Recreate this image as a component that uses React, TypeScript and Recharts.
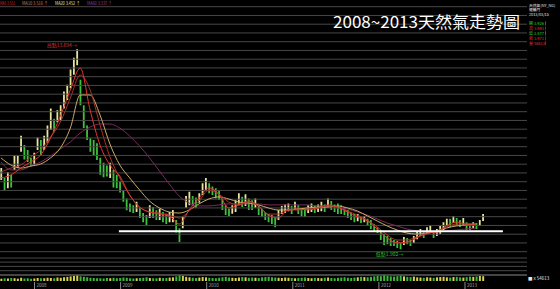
import React from 'react';
import {
  ComposedChart,
  Bar,
  Line,
  XAxis,
  YAxis,
  ReferenceLine,
  ReferenceDot,
  Cell,
} from 'recharts';

// ---- time axis ----
const START_YEAR = 2007.611; // first bar (mid Aug 2007)
const STEP_YEARS = 14 / 365.25; // one bar per two weeks
const yearTicks = [2008, 2009, 2010, 2011, 2012, 2013];
const X_DOMAIN: [number, number] = [2007.5993, 2013.7201];
const P_DOMAIN: [number, number] = [1.761, 16.206];

// ---- price bars (low / high, USD per MMBtu) ----
const lows = [
  5.99, 5.4, 5.5, 5.55, 6.58, 6.7, 7.65, 7.2, 7.05, 6.8,
  6.85, 7.76, 7.45, 7.76, 8.2, 8.94, 8.8, 9.4, 9.5, 10.2,
  10.7, 11.4, 12.2, 12.75, 10.4, 9.05, 8.35, 7.65, 7.45, 7.17,
  6.3, 6.15, 6.2, 6.1, 5.55, 5.5, 5.25, 4.7, 4.2, 4.1,
  4.05, 4.1, 3.75, 3.5, 3.34, 3.75, 3.75, 3.63, 3.63, 3.5,
  3.4, 3.5, 3.5, 2.9, 2.33, 3.15, 4.35, 4.5, 4.45, 4.35,
  4.65, 5.1, 5.4, 5.2, 5.1, 4.9, 4.81, 4.22, 3.92, 3.85,
  4.0, 4.1, 4.5, 4.4, 4.45, 4.22, 4.22, 4.35, 3.92, 3.8,
  3.63, 3.5, 3.4, 3.2, 3.63, 3.98, 4.05, 4.15, 3.98, 4.22,
  3.98, 3.85, 3.8, 4.05, 4.1, 4.05, 4.1, 4.15, 4.1, 4.4,
  4.22, 4.1, 3.98, 3.98, 3.92, 3.75, 3.63, 3.5, 3.55, 3.45,
  3.5, 3.28, 3.1, 2.98, 2.86, 2.45, 2.16, 2.2, 2.1, 2.1,
  1.98, 1.902, 2.16, 2.2, 2.1, 2.27, 2.5, 2.68, 2.57, 2.8,
  2.92, 2.57, 2.68, 2.8, 3.04, 3.28, 3.22, 3.45, 3.28, 3.22,
  3.34, 3.04, 3.04, 3.15, 3.1, 3.28, 3.57,
];
const highs = [
  6.7, 6.1, 6.45, 6.3, 7.45, 7.45, 8.6, 8.05, 7.76, 7.3,
  7.6, 8.5, 8.35, 8.6, 9.2, 10.2, 9.6, 10.1, 10.4, 11.2,
  11.6, 12.5, 13.2, 13.694, 11.9, 10.4, 9.2, 8.45, 8.35, 8.15,
  7.3, 7.0, 6.85, 7.0, 6.58, 6.3, 5.9, 5.4, 4.9, 4.6,
  4.5, 4.7, 4.35, 4.05, 3.92, 4.5, 4.4, 4.2, 4.3, 4.1,
  4.0, 4.1, 4.22, 3.63, 3.15, 3.8, 5.05, 5.3, 5.05, 4.95,
  5.2, 5.8, 6.1, 5.8, 5.6, 5.5, 5.4, 4.9, 4.5, 4.3,
  4.5, 4.8, 5.2, 5.0, 5.15, 4.9, 4.8, 4.9, 4.45, 4.3,
  4.1, 3.98, 3.92, 3.75, 4.22, 4.45, 4.55, 4.6, 4.45, 4.7,
  4.5, 4.3, 4.25, 4.5, 4.6, 4.5, 4.55, 4.7, 4.55, 4.9,
  4.75, 4.55, 4.6, 4.5, 4.4, 4.22, 4.1, 3.98, 3.98, 3.8,
  3.86, 3.7, 3.63, 3.4, 3.2, 3.04, 2.8, 2.7, 2.57, 2.45,
  2.4, 2.28, 2.63, 2.57, 2.45, 2.68, 2.92, 3.1, 2.98, 3.2,
  3.34, 2.98, 3.1, 3.28, 3.5, 3.7, 3.7, 3.86, 3.75, 3.63,
  3.75, 3.5, 3.4, 3.5, 3.45, 3.63, 3.98,
];
const volumes = [
  10, 12, 11, 13, 12, 10, 14, 11, 12, 10,
  11, 13, 12, 12, 14, 13, 12, 15, 14, 16,
  18, 20, 22, 24, 20, 18, 16, 14, 13, 12,
  12, 11, 13, 12, 14, 12, 13, 15, 14, 12,
  11, 12, 13, 14, 16, 13, 12, 12, 14, 13,
  13, 15, 16, 20, 24, 22, 18, 16, 14, 13,
  15, 17, 16, 14, 13, 12, 14, 16, 18, 15,
  14, 13, 15, 17, 16, 14, 15, 14, 13, 16,
  17, 18, 16, 15, 14, 13, 15, 14, 13, 12,
  13, 14, 15, 13, 12, 14, 13, 12, 14, 15,
  13, 12, 14, 15, 16, 14, 13, 15, 16, 18,
  17, 16, 18, 20, 22, 21, 24, 22, 20, 19,
  21, 23, 20, 18, 17, 19, 16, 15, 14, 16,
  15, 14, 16, 17, 18, 16, 15, 17, 18, 16,
  15, 17, 19, 18, 20, 22, 21,
];

// ---- moving averages, read every 3rd bar ----
const MA_EVERY = 3;
const ma1Knots = [
  6.11, 6.28, 6.69, 7.05, 7.46, 8.46, 9.76, 11.3, 12.59, 10.11,
  8.05, 6.87, 6.22, 5.1, 4.39, 4.1, 3.98, 3.87, 3.39, 4.22,
  4.93, 5.52, 5.16, 4.34, 4.52, 4.75, 4.46, 3.92, 3.75, 4.22,
  4.28, 4.22, 4.34, 4.52, 4.39, 4.1, 3.81, 3.57, 3.1, 2.57,
  2.28, 2.33, 2.57, 2.86, 2.92, 3.28, 3.51, 3.39, 3.39,
];
const ma2Knots = [
  6.46, 6.69, 6.87, 7.35, 7.76, 8.52, 9.41, 10.82, 12.18, 11.3,
  9.23, 7.35, 6.11, 5.1, 4.39, 4.1, 4.04, 3.92, 3.75, 4.16,
  4.75, 5.4, 5.16, 4.69, 4.52, 4.69, 4.46, 3.98, 3.98, 4.22,
  4.22, 4.28, 4.34, 4.46, 4.39, 4.16, 3.92, 3.63, 3.22, 2.75,
  2.45, 2.45, 2.63, 2.8, 2.98, 3.22, 3.39, 3.39, 3.39,
];
const ma3Knots = [
  7.29, 6.87, 6.69, 6.81, 6.93, 7.29, 7.88, 9.05, 11.0, 11.0,
  9.82, 8.11, 6.87, 6.11, 5.4, 4.75, 4.34, 4.1, 4.04, 4.22,
  4.58, 4.87, 4.99, 4.87, 4.69, 4.63, 4.52, 4.34, 4.22, 4.22,
  4.28, 4.34, 4.39, 4.39, 4.46, 4.34, 4.16, 3.87, 3.57, 3.28,
  3.04, 2.86, 2.8, 2.86, 2.98, 3.16, 3.28, 3.34, 3.39,
];
const ma4Knots = [
  7.05, 6.58, 6.58, 6.81, 7.05, 7.4, 7.82, 8.23, 8.76, 9.11,
  9.29, 9.29, 9.05, 8.58, 7.99, 7.29, 6.52, 5.75, 5.04, 4.63,
  4.46, 4.46, 4.52, 4.58, 4.58, 4.58, 4.58, 4.52, 4.52, 4.52,
  4.52, 4.52, 4.46, 4.46, 4.39, 4.28, 4.1, 3.92, 3.69, 3.45,
  3.28, 3.1, 2.98, 2.92, 2.92, 2.98, 3.04, 3.1, 3.16,
];

const peak = { index: 23, price: 13.694, label: '高點13.694→' };
const trough = { index: 121, price: 1.902, label: '低點1.902→' };
const supportLine = { from: 2008.98, to: 2013.44, price: 2.97 };

const legendItems = [
  { text: 'MA5 3.551', color: '#d42a2a', x: 0, w: 15 },
  { text: 'MA10 3.516 ↑', color: '#d8785a', x: 22, w: 26 },
  { text: 'MA20 3.452 ↑', color: '#e6e2a4', x: 55, w: 25 },
  { text: 'MA60 3.337 ↑', color: '#9a3aa8', x: 87, w: 25 },
];
const infoTop = ['天然氣(NY_NG)', '連續月', '2013/03/15'];
const infoQuote = [
  { text: '開 3.926', color: '#2fd02f' },
  { text: '高 3.993', color: '#e03030' },
  { text: '低 3.877', color: '#2fd02f' },
  { text: '收 3.971', color: '#e03030' },
  { text: '量 54613', color: '#e03030' },
];

const UP = '#e8e49c';
const DOWN = '#3cc23c';
const GRID = '#484848';

const rows = lows.map((lo, i) => {
  const hi = highs[i];
  const mid = (lo + hi) / 2;
  const prevMid = i > 0 ? (lows[i - 1] + highs[i - 1]) / 2 : mid;
  const k = i / MA_EVERY;
  const knot = (arr: number[]) => (i % MA_EVERY === 0 && k < arr.length ? arr[k] : null);
  return {
    t: START_YEAR + i * STEP_YEARS,
    range: [lo, hi],
    vol: volumes[i],
    up: mid >= prevMid,
    ma1: knot(ma1Knots),
    ma2: knot(ma2Knots),
    ma3: knot(ma3Knots),
    ma4: knot(ma4Knots),
  };
});

// grid positions (in grid-axis units, one unit per grid row)
const priceGridTicks = Array.from({ length: 29 }, (_, k) => k);
const volGridTicks = [10.3, 14.6, 18.9, 23];
const volSeparator = 6;

const FONT = '"Noto Sans CJK TC", "Noto Sans", sans-serif';

const YearTick = (props: any) => {
  const { x, y, payload } = props;
  return (
    <g>
      <line x1={x} x2={x} y1={y + 1} y2={y + 9} stroke="#8a8a8a" strokeWidth={1} />
      <text x={x + 2} y={y + 6} fontSize={4.5} fill="#a8a8a8" fontFamily={FONT}>
        {payload.value}
      </text>
    </g>
  );
};

const PeakLabel = (props: any) => {
  const { viewBox } = props;
  const cx = viewBox.x + (viewBox.width || 0) / 2;
  const cy = viewBox.y + (viewBox.height || 0) / 2;
  return (
    <text x={cx} y={cy - 2} fontSize={5} fill="#d83030" textAnchor="end" fontFamily={FONT}>
      {peak.label}
    </text>
  );
};
const TroughLabel = (props: any) => {
  const { viewBox } = props;
  const cx = viewBox.x + (viewBox.width || 0) / 2;
  const cy = viewBox.y + (viewBox.height || 0) / 2;
  return (
    <text x={cx + 3} y={cy + 6.5} fontSize={5} fill="#30c030" textAnchor="end" fontFamily={FONT}>
      {trough.label}
    </text>
  );
};

export default function App() {
  return (
    <div
      style={{
        position: 'fixed',
        left: 0,
        top: 0,
        width: 560,
        height: 289,
        background: '#000',
        overflow: 'hidden',
      }}
    >
      <div style={{ position: 'absolute', left: 0, top: 253 }}>
        <ComposedChart
          width={527}
          height={36}
          data={rows}
          margin={{ top: 5, right: 0, bottom: 0, left: 0 }}
        >
          <XAxis
            dataKey="t"
            type="number"
            domain={X_DOMAIN}
            allowDataOverflow
            ticks={yearTicks}
            tick={<YearTick />}
            tickLine={false}
            axisLine={false}
            tickSize={0}
            tickMargin={0}
            height={8}
            interval={0}
          />
          <YAxis yAxisId="vg" type="number" domain={[0, 23]} allowDataOverflow hide />
          <YAxis yAxisId="v" type="number" domain={[0, 100]} allowDataOverflow hide />
          {volGridTicks.map((v) => (
            <ReferenceLine key={v} yAxisId="vg" y={v} stroke={GRID} strokeWidth={1} />
          ))}
          <ReferenceLine yAxisId="vg" y={volSeparator} stroke="#8a8a8a" strokeWidth={1} />
          <Bar dataKey="vol" yAxisId="v" barSize={2} isAnimationActive={false}>
            {rows.map((r, i) => (
              <Cell key={i} fill={r.up ? '#d6d24a' : '#3cb83c'} />
            ))}
          </Bar>
        </ComposedChart>
      </div>
      <div style={{ position: 'absolute', left: 0, top: 0 }}>
        <ComposedChart
          width={527}
          height={262}
          data={rows}
          margin={{ top: 6.7, right: 0, bottom: 10.3, left: 0 }}
        >
          <XAxis dataKey="t" type="number" domain={X_DOMAIN} allowDataOverflow hide />
          <YAxis yAxisId="g" type="number" domain={[0, 28]} allowDataOverflow hide />
          <YAxis yAxisId="p" type="number" domain={P_DOMAIN} allowDataOverflow hide />
          {priceGridTicks.map((k) => (
            <ReferenceLine key={k} yAxisId="g" y={k} stroke={GRID} strokeWidth={1} />
          ))}
          <Bar dataKey="range" yAxisId="p" barSize={1.8} isAnimationActive={false}>
            {rows.map((r, i) => (
              <Cell key={i} fill={r.up ? UP : DOWN} />
            ))}
          </Bar>
          <Line yAxisId="p" dataKey="ma4" stroke="#7a2c5c" strokeWidth={1} dot={false} connectNulls type="monotone" isAnimationActive={false} />
          <Line yAxisId="p" dataKey="ma3" stroke="#c8ac6c" strokeWidth={1} dot={false} connectNulls type="monotone" isAnimationActive={false} />
          <Line yAxisId="p" dataKey="ma2" stroke="#a8342c" strokeWidth={1} dot={false} connectNulls type="monotone" isAnimationActive={false} />
          <Line yAxisId="p" dataKey="ma1" stroke="#e03a30" strokeWidth={1} dot={false} connectNulls type="monotone" isAnimationActive={false} />
          <ReferenceLine
            yAxisId="p"
            segment={[
              { x: supportLine.from, y: supportLine.price },
              { x: supportLine.to, y: supportLine.price },
            ]}
            stroke="#ffffff"
            strokeWidth={2}
            ifOverflow="visible"
          />
          <ReferenceDot
            yAxisId="p"
            x={rows[peak.index].t}
            y={peak.price}
            r={0}
            fill="none"
            stroke="none"
            ifOverflow="visible"
            label={<PeakLabel />}
          />
          <ReferenceDot
            yAxisId="p"
            x={rows[trough.index].t}
            y={trough.price}
            r={0}
            fill="none"
            stroke="none"
            ifOverflow="visible"
            label={<TroughLabel />}
          />
        </ComposedChart>
      </div>
      <svg
        width={560}
        height={289}
        style={{ position: 'absolute', left: 0, top: 0, pointerEvents: 'none' }}
      >
        <text x={333} y={27.5} fontSize={16} fill="#ffffff" fontFamily={FONT} textLength={187} lengthAdjust="spacingAndGlyphs">
          2008~2013天然氣走勢圖
        </text>
        {legendItems.map((it) => (
          <text key={it.text} x={it.x} y={4.5} fontSize={4.5} fill={it.color} fontFamily={FONT} textLength={it.w} lengthAdjust="spacingAndGlyphs">
            {it.text}
          </text>
        ))}
        {infoTop.map((t, i) => (
          <text key={t} x={529} y={6.5 + i * 4.5} fontSize={3.8} fill="#e8e8e8" fontFamily={FONT}>
            {t}
          </text>
        ))}
        {infoQuote.map((q, i) => (
          <g key={q.text}>
            <text x={529} y={25 + i * 4.9} fontSize={4} fill={q.color} fontFamily={FONT}>
              {q.text}
            </text>
            <line x1={545.5} x2={545.5} y1={21.5 + i * 4.9} y2={25.5 + i * 4.9} stroke={q.color} strokeWidth={0.6} />
          </g>
        ))}
        <text x={528} y={280} fontSize={4.5} fill="#e8e8e8" fontFamily={FONT}>
          ■ x 54613
        </text>
      </svg>
    </div>
  );
}
